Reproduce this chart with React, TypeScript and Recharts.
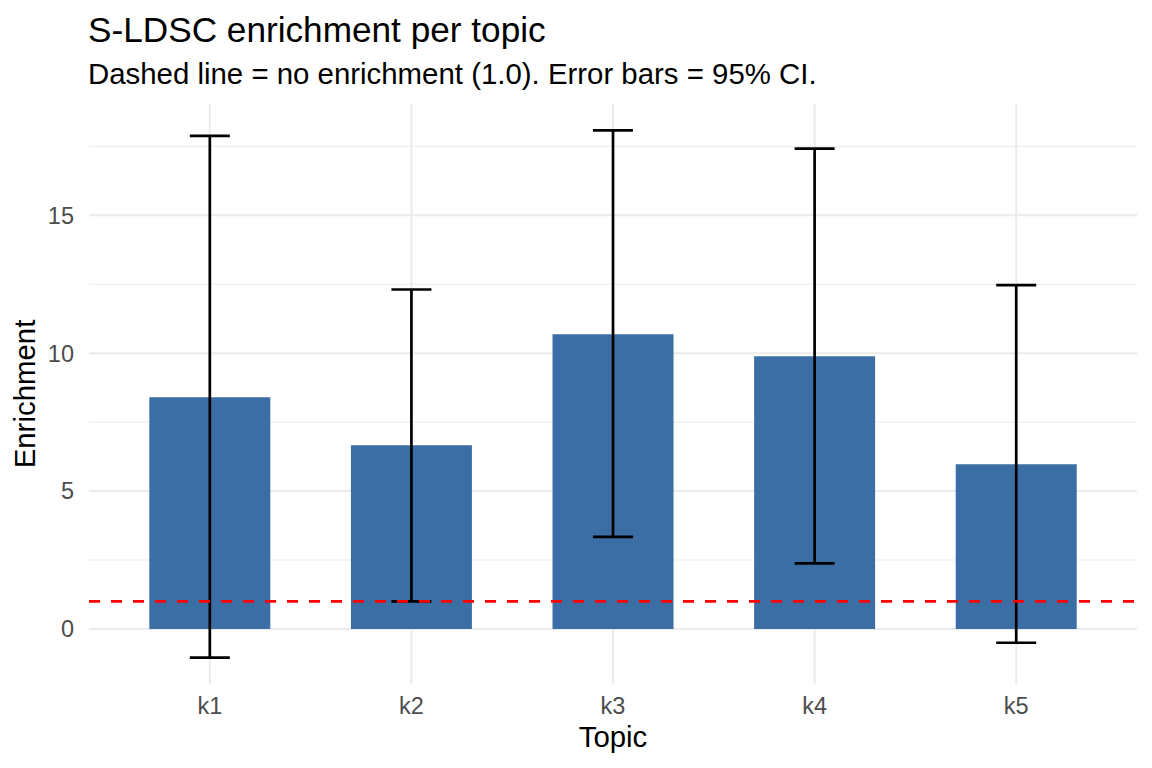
import React from "react";
import {
  BarChart,
  Bar,
  XAxis,
  YAxis,
  CartesianGrid,
  ReferenceLine,
  ErrorBar,
} from "recharts";

const TOPICS = ["k1", "k2", "k3", "k4", "k5"];
const ENRICHMENT = [8.4, 6.66, 10.69, 9.89, 5.97];
const CI_LOW = [-1.04, 1.0, 3.34, 2.38, -0.5];
const CI_HIGH = [17.88, 12.31, 18.08, 17.42, 12.47];
const Y_TICKS = [0, 5, 10, 15];
const Y_MINOR = [2.5, 7.5, 12.5, 17.5];
const NULL_LEVEL = 1;

const FONT = '"Liberation Sans", Arial, Helvetica, sans-serif';
const BAR_FILL = "#3B6EA5";
const GRID = "#EBEBEB";

const data = TOPICS.map((topic, i) => ({
  topic,
  value: ENRICHMENT[i],
  err: [ENRICHMENT[i] - CI_LOW[i], CI_HIGH[i] - ENRICHMENT[i]],
}));

// ggplot-style 5% expansion around the data range
const lo = Math.min(0, ...CI_LOW);
const hi = Math.max(...CI_HIGH);
const pad = (hi - lo) * 0.05;
const Y_DOMAIN: [number, number] = [lo - pad, hi + pad];

const W = 1152;
const H = 768;

export default function App() {
  return (
    <div
      style={{
        position: "absolute",
        left: 0,
        top: 0,
        width: W,
        height: H,
        background: "#fff",
        fontFamily: FONT,
      }}
    >
      <BarChart
        width={W}
        height={H}
        data={data}
        margin={{ top: 104, right: 15, bottom: 0, left: 0 }}
        barCategoryGap="20%"
      >
        <CartesianGrid
          stroke={GRID}
          strokeWidth={1}
          vertical={false}
          horizontalValues={Y_MINOR}
          syncWithTicks
        />
        <CartesianGrid stroke={GRID} strokeWidth={2} syncWithTicks />
        <XAxis
          dataKey="topic"
          height={84}
          padding={{ left: 20, right: 20 }}
          interval={0}
          tickLine={false}
          axisLine={false}
          tickMargin={7}
          tick={{ fontSize: 23.5, fill: "#4D4D4D", fontFamily: FONT }}
        />
        <YAxis
          type="number"
          domain={Y_DOMAIN}
          ticks={Y_TICKS}
          allowDataOverflow
          width={89}
          tickLine={false}
          axisLine={false}
          tickMargin={9}
          tick={{ fontSize: 23.5, fill: "#4D4D4D", fontFamily: FONT }}
        />
        <Bar dataKey="value" fill={BAR_FILL} isAnimationActive={false}>
          <ErrorBar
            dataKey="err"
            width={20}
            stroke="#000"
            strokeWidth={2.7}
            isAnimationActive={false}
          />
        </Bar>
        <ReferenceLine
          y={NULL_LEVEL}
          stroke="#FF0000"
          strokeWidth={2.7}
          strokeDasharray="11 11"
        />
      </BarChart>
      <svg
        width={W}
        height={H}
        style={{ position: "absolute", left: 0, top: 0, pointerEvents: "none" }}
      >
        <text x={88} y={42} fontSize={35.2} fill="#000" fontFamily={FONT}>
          S-LDSC enrichment per topic
        </text>
        <text x={88} y={84} fontSize={29.4} fill="#000" fontFamily={FONT}>
          Dashed line = no enrichment (1.0). Error bars = 95% CI.
        </text>
        <text
          x={613}
          y={747}
          fontSize={29.4}
          fill="#000"
          textAnchor="middle"
          fontFamily={FONT}
        >
          Topic
        </text>
        <text
          x={35}
          y={394}
          fontSize={29.4}
          fill="#000"
          textAnchor="middle"
          fontFamily={FONT}
          transform="rotate(-90 35 394)"
        >
          Enrichment
        </text>
      </svg>
    </div>
  );
}
